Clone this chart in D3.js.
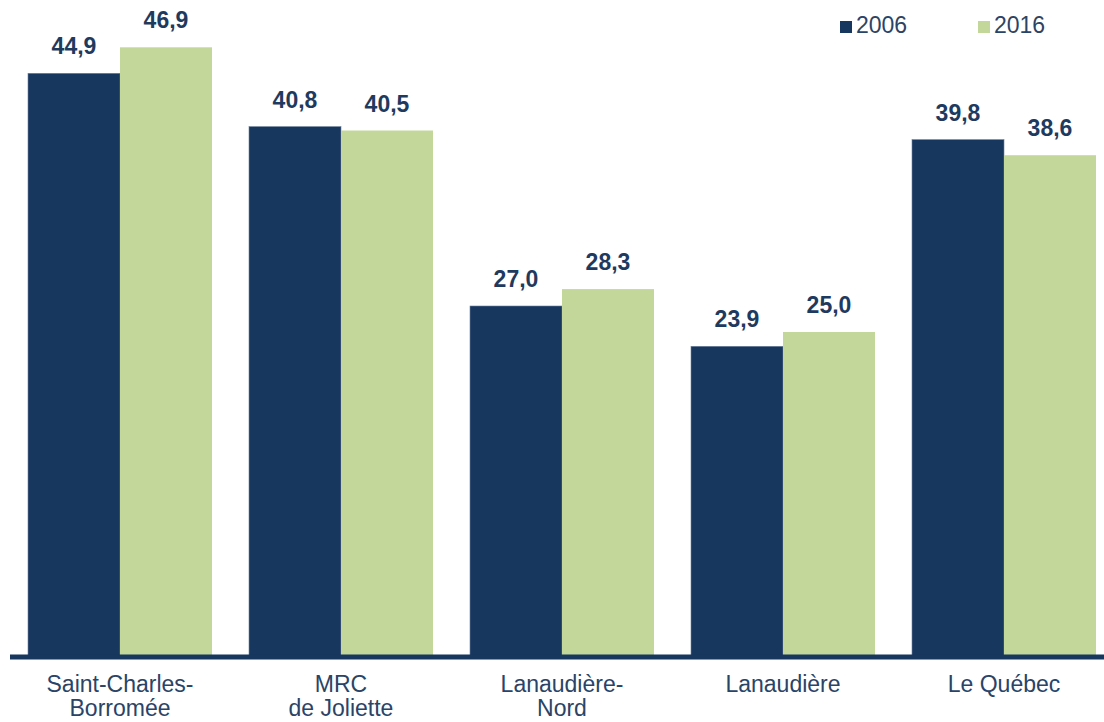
<!DOCTYPE html>
<html>
<head>
<meta charset="utf-8">
<script src="https://cdn.jsdelivr.net/npm/d3@7"></script>
<style>
  body { margin: 0; background: #fff; }
  svg { display: block; font-family: "Liberation Sans", Arial, sans-serif; }
</style>
</head>
<body>
<svg id="chart" width="1104" height="722"></svg>
<script>
// data
const categories = [["Saint-Charles-", "Borromée"], ["MRC", "de Joliette"], ["Lanaudière-", "Nord"], ["Lanaudière"], ["Le Québec"]];
const seriesNames = ["2006", "2016"];
const values2006 = [44.9, 40.8, 27.0, 23.9, 39.8];
const values2016 = [46.9, 40.5, 28.3, 25.0, 38.6];
const colors = ["#17375e", "#c4d79b"];

const svg = d3.select("#chart");
const zeroY = 657;

const keys = categories.map(c => c.join(" "));
const rows = keys.map((k, i) => ({ key: k, lines: categories[i], vals: [values2006[i], values2016[i]] }));

const x0 = d3.scaleBand()
    .domain(keys)
    .range([28, 1096])
    .paddingInner(37 / 221)
    .paddingOuter(0);

const x1 = d3.scaleBand()
    .domain(seriesNames)
    .range([0, x0.bandwidth()]);

const y = d3.scaleLinear()
    .domain([0, 50])
    .range([zeroY, zeroY - 650]);

const fmt = v => d3.format(".1f")(v).replace(".", ",");

const groups = svg.selectAll("g.grp")
    .data(rows)
    .enter()
    .append("g")
    .attr("class", "grp")
    .attr("transform", d => "translate(" + x0(d.key) + ",0)");

groups.selectAll("rect")
    .data(d => d.vals.map((v, j) => ({ s: seriesNames[j], v: v, j: j })))
    .enter()
    .append("rect")
    .attr("x", d => x1(d.s))
    .attr("y", d => y(d.v))
    .attr("width", x1.bandwidth())
    .attr("height", d => zeroY - y(d.v))
    .style("fill", d => colors[d.j])
    .style("stroke", d => d.j === 0 ? "#6f819a" : "none")
    .style("stroke-width", 0.6);

groups.selectAll("text.val")
    .data(d => d.vals.map((v, j) => ({ s: seriesNames[j], v: v })))
    .enter()
    .append("text")
    .attr("class", "val")
    .attr("x", d => x1(d.s) + x1.bandwidth() / 2)
    .attr("y", d => y(d.v) - 19)
    .attr("text-anchor", "middle")
    .style("font-size", "23px")
    .style("font-weight", "bold")
    .style("fill", "#1f3a5f")
    .text(d => fmt(d.v));

// baseline
svg.append("line")
    .attr("x1", 10)
    .attr("x2", 1104)
    .attr("y1", zeroY)
    .attr("y2", zeroY)
    .style("stroke", "#17375e")
    .style("stroke-width", 5);

// category labels
const cat = svg.selectAll("text.cat")
    .data(rows)
    .enter()
    .append("text")
    .attr("class", "cat")
    .attr("text-anchor", "middle")
    .style("font-size", "23px")
    .style("fill", "#2a4467");

cat.selectAll("tspan")
    .data(d => d.lines.map(l => ({ l: l, cx: x0(d.key) + x0.bandwidth() / 2 })))
    .enter()
    .append("tspan")
    .attr("x", d => d.cx)
    .attr("y", (d, i) => 692 + i * 24)
    .text(d => d.l);

// legend
const legX = [840, 978];
const leg = svg.selectAll("g.leg")
    .data(seriesNames)
    .enter()
    .append("g")
    .attr("class", "leg")
    .attr("transform", (d, i) => "translate(" + legX[i] + ",0)");

leg.append("rect")
    .attr("x", 0)
    .attr("y", 21)
    .attr("width", 12)
    .attr("height", 12)
    .style("fill", (d, i) => colors[i]);

leg.append("text")
    .attr("x", 16)
    .attr("y", 33)
    .style("font-size", "23px")
    .style("fill", "#2a4467")
    .text(d => d);
</script>
</body>
</html>
